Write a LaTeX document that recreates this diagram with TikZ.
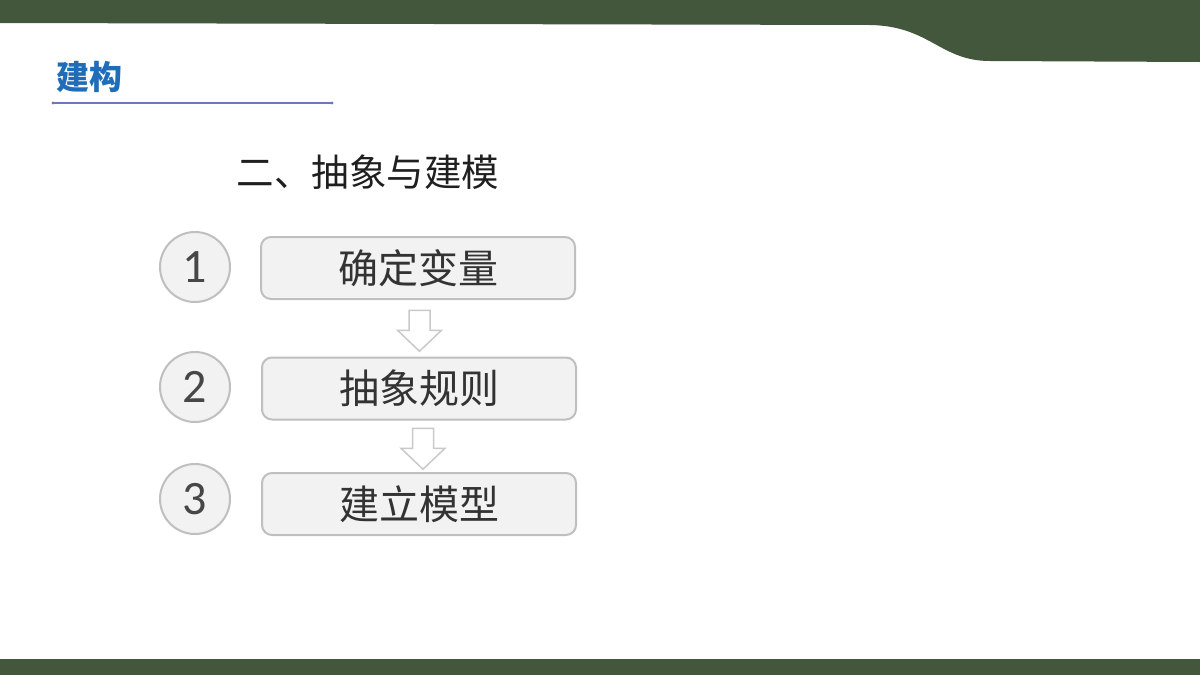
\documentclass[tikz,border=0pt]{standalone}
\usepackage{fontspec}
\newfontfamily\cjk{Noto Sans CJK SC}
\newfontfamily\numfont{Carlito}
\usetikzlibrary{%
  calc%
}
\definecolor{bandgreen}{RGB}{66,87,60}
\definecolor{titleblue}{RGB}{31,108,184}
\definecolor{lineblue}{RGB}{104,122,190}
\definecolor{boxgray}{RGB}{242,242,242}
\definecolor{edgegray}{RGB}{191,191,191}
\definecolor{textgray}{RGB}{51,51,51}
\tikzset{numcircle/.style = {circle, draw=edgegray, fill=boxgray, line width=2pt,
      minimum size=70pt, inner sep=0pt, text=textgray!90,
      font=\numfont\fontsize{48}{50}\selectfont},%
  stepbox/.style = {rounded corners=10pt, draw=edgegray, fill=boxgray, line width=2pt,
      minimum width=314pt, minimum height=62pt, inner sep=0pt, text=textgray,
      font=\cjk\fontsize{40}{44}\selectfont},%
  blockarrow/.style = {draw=edgegray!85, fill=white, line width=1.5pt, line join=miter}}

\begin{document}
\begin{tikzpicture}[x=1pt,y=-1pt]
  \useasboundingbox (0,0) rectangle (1200,675);
  % green bands
  \fill[bandgreen] (0,0) -- (1200,0) -- (1200,62) -- (990,61)
    .. controls (940,61) and (930,26) .. (870,25) -- (0,23) -- cycle;
  \fill[bandgreen] (0,659) rectangle (1200,675);
  % title
  \node[anchor=west, text=titleblue, font=\cjk\bfseries\fontsize{33}{36}\selectfont]
    (title) at (53,77) {建构};
  \draw[lineblue, line width=1.3pt] (53,103) coordinate (ul) -- (332,103) coordinate (ur);
  \fill[lineblue] (ul) circle (1.6) (ur) circle (1.6);
  \node[text=black!88, font=\cjk\fontsize{37.5}{40}\selectfont] (head) at (368,172)
    {二、抽象与建模};
  % steps
  \node[numcircle] (num1) at (195,267) {1};
  \node[numcircle] (num2) at (195,387) {2};
  \node[numcircle] (num3) at (195,499) {3};
  \node[stepbox] (box1) at (418,268) {确定变量};
  \node[stepbox] (box2) at (419,388.5) {抽象规则};
  \node[stepbox] (box3) at (419,504) {建立模型};
  \foreach \a/\b/\dx in {box1/box2/1, box2/box3/4} {
    \coordinate (mid) at ($(\a.south)!0.5!(\b.north)+(\dx,0)$);
    \draw[blockarrow] (mid) +(-10.5,-18) -- +(10.5,-18) -- +(10.5,2) -- +(22,2)
      -- +(0,23) -- +(-22,2) -- +(-10.5,2) -- cycle;
  }
\end{tikzpicture}
\end{document}
